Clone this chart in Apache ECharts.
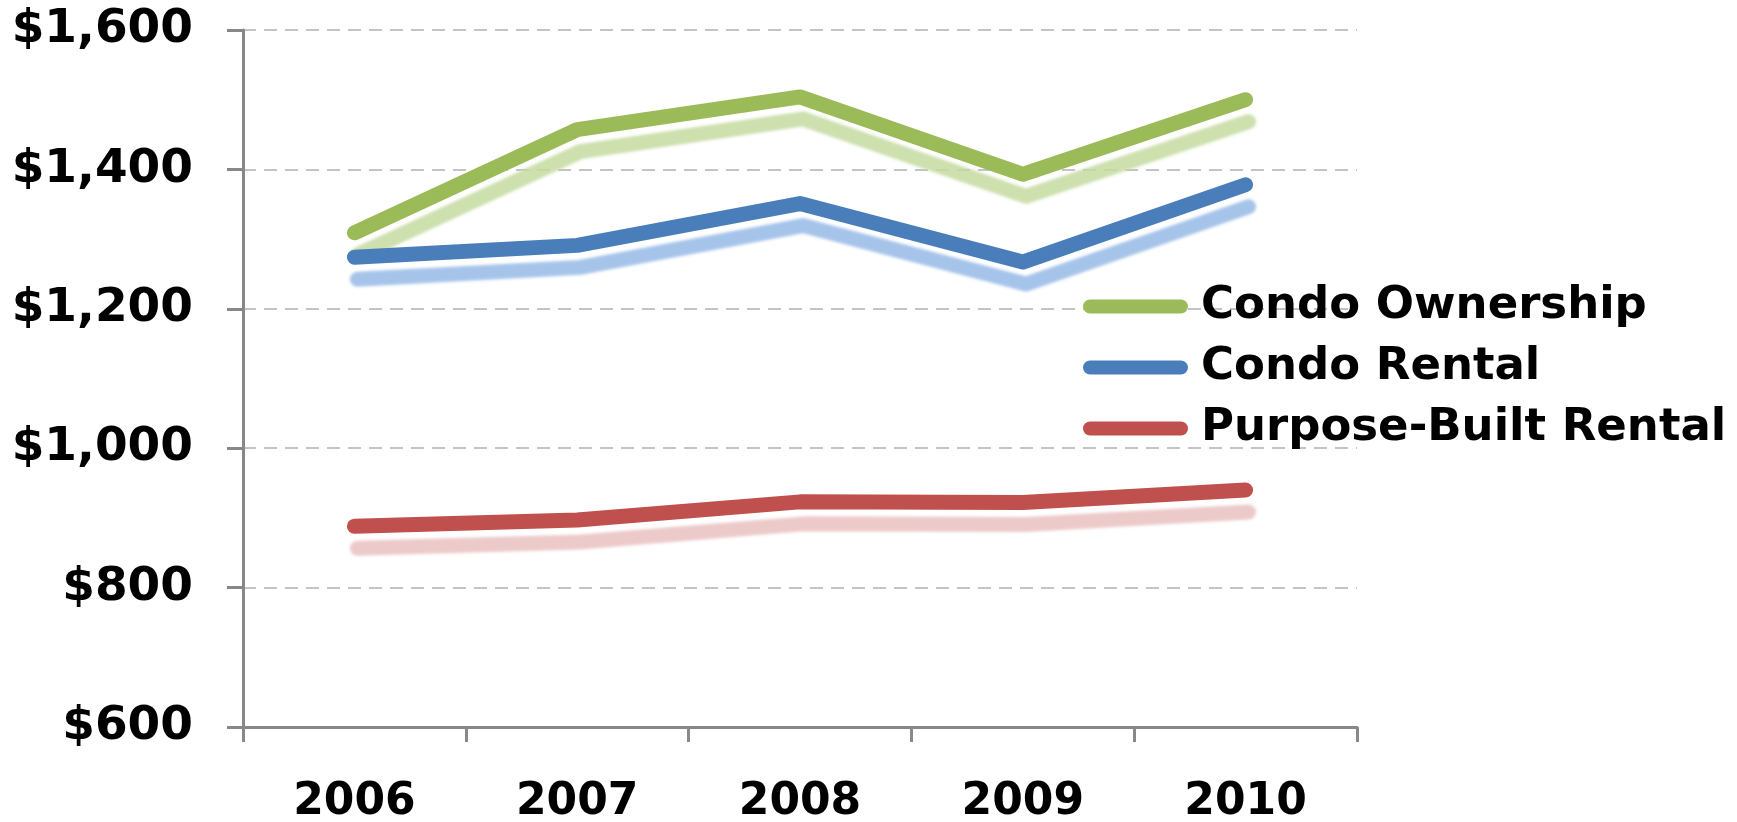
<!DOCTYPE html>
<html>
<head>
<meta charset="utf-8">
<script src="https://cdn.jsdelivr.net/npm/echarts@6/dist/echarts.min.js"></script>
<style>
html,body{margin:0;padding:0;background:#fff;}
#chart{width:1737px;height:822px;}
</style>
</head>
<body>
<div id="chart"></div>
<script>
const categories = ['2006', '2007', '2008', '2009', '2010'];
const condoOwnership = [1309, 1457, 1504, 1393, 1500];
const condoRental = [1274, 1291, 1351, 1267, 1378];
const purposeBuiltRental = [888, 897, 923, 922, 940];
const seriesNames = ['Condo Ownership', 'Condo Rental', 'Purpose-Built Rental'];

const FONT = 'DejaVu Sans';
const pill = 'path://M7,0 L97,0 A7,7 0 0 1 97,14 L7,14 A7,7 0 0 1 7,0 Z';

function lineSeries(name, data, color, shadow) {
  return {
    name: name,
    type: 'line',
    data: data,
    symbol: 'none',
    smooth: false,
    z: 3,
    lineStyle: {
      color: color,
      width: 15,
      cap: 'round',
      join: 'round',
      shadowColor: shadow,
      shadowBlur: 3,
      shadowOffsetX: 3,
      shadowOffsetY: 22
    },
    itemStyle: { color: color },
    emphasis: { disabled: true }
  };
}

const chart = echarts.init(document.getElementById('chart'));
chart.setOption({
  animation: false,
  backgroundColor: '#ffffff',
  grid: { left: 243, right: 380, top: 30, bottom: 95, containLabel: false, outerBoundsMode: 'none' },
  legend: {
    orient: 'vertical',
    left: 1078,
    top: 279,
    itemWidth: 105,
    itemHeight: 15,
    itemGap: 16,
    icon: pill,
    data: seriesNames,
    textStyle: { fontFamily: FONT, fontWeight: 'bold', fontSize: 45, color: '#000', padding: [0, 0, 0, 8] }
  },
  xAxis: {
    type: 'category',
    data: categories,
    boundaryGap: true,
    axisLine: { show: true, lineStyle: { color: '#888888', width: 3 } },
    axisTick: { show: true, alignWithLabel: false, length: 15, lineStyle: { color: '#888888', width: 3 } },
    axisLabel: { margin: 54, fontFamily: FONT, fontWeight: 'bold', fontSize: 44, color: '#000' },
    splitLine: { show: false }
  },
  yAxis: {
    type: 'value',
    min: 600,
    max: 1600,
    interval: 200,
    axisLine: { show: true, lineStyle: { color: '#888888', width: 3 } },
    axisTick: { show: true, length: 16, lineStyle: { color: '#888888', width: 3 } },
    axisLabel: {
      margin: 50,
      fontFamily: FONT, fontWeight: 'bold', fontSize: 47, color: '#000',
      formatter: function (v) { return '$' + v.toLocaleString('en-US'); }
    },
    splitLine: { show: true, lineStyle: { color: '#c4c4c4', width: 2, type: [13, 8] } }
  },
  series: [
    lineSeries(seriesNames[0], condoOwnership, '#9bbb59', 'rgba(196,218,160,0.85)'),
    lineSeries(seriesNames[1], condoRental, '#4a7ebb', 'rgba(150,186,230,0.85)'),
    lineSeries(seriesNames[2], purposeBuiltRental, '#c0504d', 'rgba(230,180,180,0.7)')
  ]
});
</script>
</body>
</html>
